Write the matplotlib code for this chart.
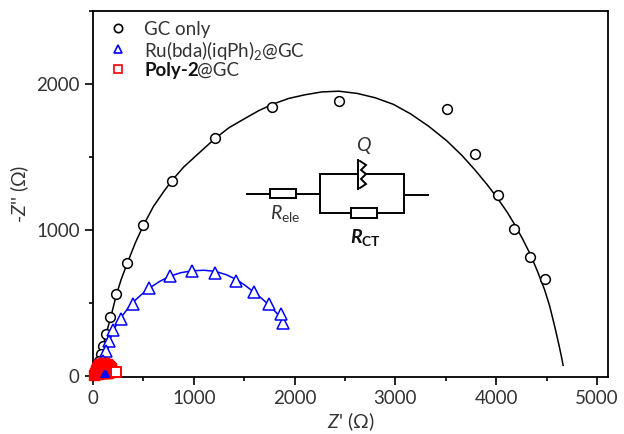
import matplotlib
matplotlib.use('Agg')
import matplotlib.pyplot as plt
from matplotlib.patches import Rectangle
from matplotlib.ticker import MultipleLocator
from matplotlib.transforms import Affine2D

plt.rcParams['font.family'] = ['Lato', 'DejaVu Sans']
plt.rcParams['mathtext.fontset'] = 'custom'
plt.rcParams['mathtext.rm'] = 'Lato'
plt.rcParams['mathtext.it'] = 'Lato:italic'
plt.rcParams['mathtext.bf'] = 'Lato:bold'
plt.rcParams['mathtext.bfit'] = 'Lato:italic:bold'

TEXT = '#333333'

# --- data ---
gc_x = [4480, 4340, 4180, 4020, 3790, 3510, 2440, 1780, 1210, 780, 500, 340, 230, 170, 130, 100, 80, 60, 40, 25]
gc_y = [665, 810, 1005, 1240, 1520, 1830, 1880, 1840, 1630, 1335, 1030, 770, 560, 400, 285, 200, 150, 100, 60, 25]
gc_fit_x = [20, 60, 100, 130, 180, 230, 280, 340, 420, 500, 600, 700, 780, 900, 1050, 1210, 1350, 1500,
            1640, 1780, 1940, 2100, 2270, 2440, 2620, 2800, 2980, 3150, 3330, 3510, 3660, 3790, 3910,
            4020, 4110, 4180, 4260, 4340, 4410, 4480, 4530, 4580, 4620, 4645, 4665]
gc_fit_y = [20, 100, 200, 285, 410, 550, 660, 770, 910, 1030, 1160, 1260, 1335, 1430, 1525, 1625, 1700, 1760,
            1815, 1860, 1900, 1925, 1945, 1950, 1935, 1905, 1860, 1795, 1710, 1610, 1510, 1410, 1310,
            1210, 1120, 1040, 940, 830, 715, 590, 480, 340, 220, 140, 70]

ru_x = [1890, 1870, 1750, 1600, 1420, 1210, 980, 760, 560, 400, 280, 200, 160, 130, 100, 80]
ru_y = [360, 420, 490, 570, 650, 705, 715, 680, 600, 490, 390, 310, 240, 170, 100, 50]
ru_fit_x = [80, 130, 200, 280, 340, 400, 480, 560, 660, 760, 870, 980, 1100, 1210, 1320, 1420, 1510, 1600, 1680,
            1750, 1820, 1870, 1900]
ru_fit_y = [50, 170, 310, 400, 455, 505, 555, 600, 645, 680, 705, 718, 722, 715, 692, 660, 618, 570, 525,
            480, 430, 390, 340]
ru_tail_x = [100, 110, 120, 130]
ru_tail_y = [5, 15, 20, 10]

# squares overlap into a solid patch, only the outermost one stays open
poly_x = [10, 15, 20, 25, 30, 35, 40, 48, 55, 62, 70, 80, 90, 100, 110, 120, 130, 140, 150, 160,
          170, 180, 30, 45, 60, 75, 90, 105, 120, 135, 150, 165, 180, 190, 60, 90, 120, 150, 175]
poly_y = [5, 12, 20, 28, 36, 44, 52, 60, 66, 72, 76, 80, 82, 84, 84, 82, 80, 76, 72, 66,
          60, 52, 10, 14, 16, 20, 20, 20, 18, 18, 20, 22, 28, 34, 44, 48, 50, 46, 40]
poly_last_x = [227]
poly_last_y = [27]

x_ticks = [0, 1000, 2000, 3000, 4000, 5000]
y_ticks = [0, 1000, 2000]

fig = plt.figure(figsize=(6.24, 4.34), dpi=100)
ax = fig.add_axes([93 / 624, 1 - 377 / 434, (608 - 93) / 624, (377 - 11) / 434])

ax.plot(gc_fit_x, gc_fit_y, color='black', lw=1.1, zorder=2)
ax.plot(gc_x, gc_y, ls='none', marker='o', ms=7, mfc='white', mec='black', mew=1.1, zorder=3)
ax.plot(ru_fit_x, ru_fit_y, color='blue', lw=1.1, zorder=4)
ax.plot(ru_x, ru_y, ls='none', marker='^', ms=8, mfc='white', mec='blue', mew=1.1, zorder=5)
ax.plot(poly_x, poly_y, ls='none', marker='s', ms=6.5, color='red', zorder=6, clip_on=False)
ax.plot(poly_last_x, poly_last_y, ls='none', marker='s', ms=6.5, mfc='white', mec='red', mew=1.4, zorder=6, clip_on=False)
ax.plot(ru_tail_x, ru_tail_y, ls='none', marker='^', ms=4, color='blue', zorder=7)

ax.set_xlim(0, 5110)
ax.set_ylim(-10, 2500)
ax.set_xticks(x_ticks)
ax.set_yticks(y_ticks)
ax.xaxis.set_minor_locator(MultipleLocator(500))
ax.yaxis.set_minor_locator(MultipleLocator(500))
ax.tick_params(which='major', length=5.5, width=1.2, labelsize=13.5, labelcolor=TEXT, pad=4)
ax.tick_params(which='minor', length=3, width=1.2)
for s in ax.spines.values():
    s.set_linewidth(1.3)
ax.set_xlabel("$\\mathit{Z}$' (Ω)", fontsize=14, color=TEXT, labelpad=2)
ax.set_ylabel("-$\\mathit{Z}$'' (Ω)", fontsize=14, color=TEXT, labelpad=4)

# everything below is placed in reference pixels (y down)
px = Affine2D().scale(1, -1).translate(0, 434) + fig.dpi_scale_trans.inverted().frozen() + fig.dpi_scale_trans

# --- legend ---
ax.plot([118], [28], transform=px, marker='o', ms=6, mfc='white', mec='black', mew=1.2, clip_on=False)
ax.plot([118], [49], transform=px, marker='^', ms=6, mfc='white', mec='blue', mew=1.2, clip_on=False)
ax.plot([118], [69], transform=px, marker='s', ms=6, mfc='white', mec='red', mew=1.2, clip_on=False)
ax.text(144, 29, 'GC only', transform=px, fontsize=13.5, color=TEXT, va='center')
ax.text(144, 50, 'Ru(bda)(iqPh)$_{2}$@GC', transform=px, fontsize=13.5, color=TEXT, va='center')
bold = ax.text(144, 76, 'Poly-2', transform=px, fontsize=13.5, color='#111111', weight='bold', va='baseline')
ax.annotate('@GC', xy=(0.97, 0), xycoords=bold, fontsize=13.5, color=TEXT, va='bottom')

# --- equivalent circuit ---
wires = [
    ([247, 270], [194, 194]),
    ([296, 320], [194, 194]),
    ([320, 320, 358], [213, 174, 174]),
    ([366, 404, 404], [174, 174, 213]),
    ([320, 351], [213, 213]),
    ([377, 404], [213, 213]),
    ([404, 428], [195, 195]),
    ([358, 358], [160, 189]),
    ([360, 366, 361, 366, 361, 366, 360], [161, 165, 170, 174, 179, 184, 188]),
]
for wx, wy in wires:
    ax.plot(wx, wy, transform=px, color='black', lw=1.4, clip_on=False, solid_joinstyle='miter')
ax.add_patch(Rectangle((270, 189), 26, 9, transform=px, fc='white', ec='black', lw=1.4, clip_on=False))
ax.add_patch(Rectangle((351, 208), 26, 10, transform=px, fc='white', ec='black', lw=1.4, clip_on=False))
ax.text(363, 145, 'Q', transform=px, fontsize=14, style='italic', color=TEXT, ha='center', va='center')
ax.text(285, 214, '$\\mathit{R}_{\\mathrm{ele}}$', transform=px, fontsize=14, color=TEXT, ha='center', va='center')
ax.text(365, 238, '$\\mathbfit{R}_{\\mathbf{CT}}$', transform=px, fontsize=14, color='#111111', ha='center', va='center')

fig.savefig('out.png', dpi=100)
